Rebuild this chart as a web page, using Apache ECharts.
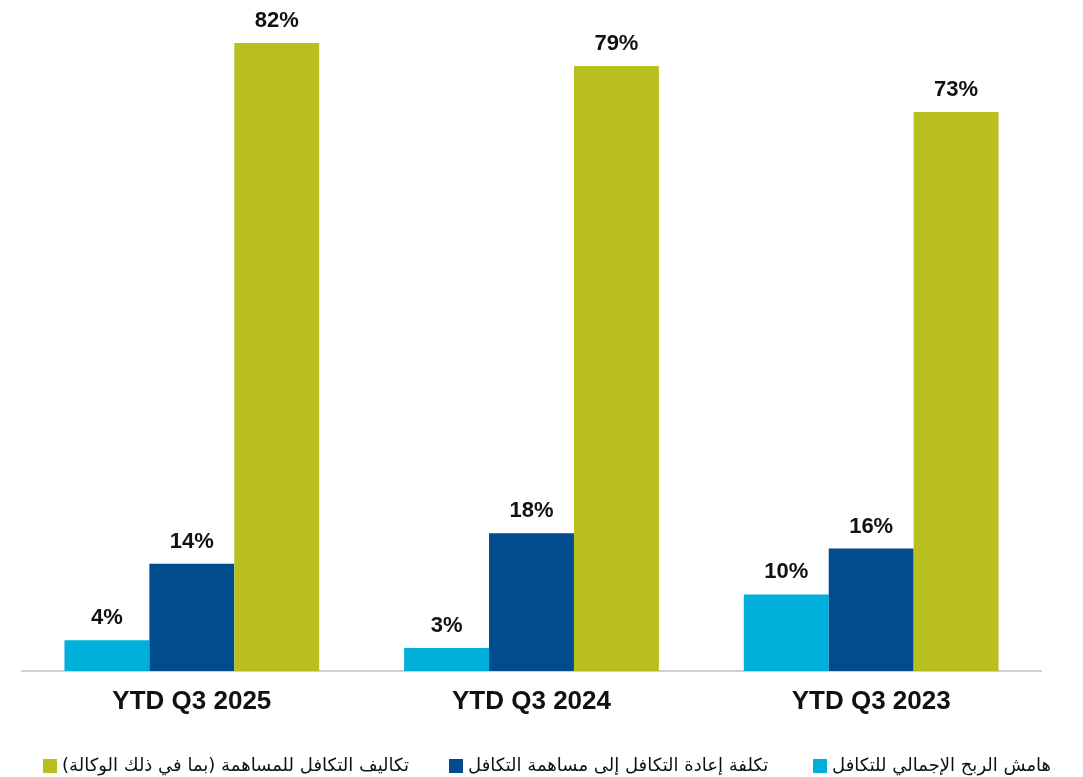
<!DOCTYPE html>
<html>
<head>
<meta charset="utf-8">
<script src="https://cdn.jsdelivr.net/npm/echarts@6/dist/echarts.min.js"></script>
<style>
  html, body { margin: 0; padding: 0; background: #fff; }
  #chart { width: 1083px; height: 777px; }
</style>
</head>
<body>
<div id="chart"></div>
<script>
const categories = ["YTD Q3 2025", "YTD Q3 2024", "YTD Q3 2023"];
const seriesNames = [
  "هامش الربح الإجمالي للتكافل",
  "تكلفة إعادة التكافل إلى مساهمة التكافل",
  "تكاليف التكافل للمساهمة (بما في ذلك الوكالة)"
];
const grossMargin = [4, 3, 10];
const reinsuranceCost = [14, 18, 16];
const contributionCost = [82, 79, 73];
const colors = ["#00B0DA", "#004C8C", "#B8BF1E"];

const chart = echarts.init(document.getElementById("chart"));

// 数值标签
const label = {
  show: true,
  position: "top",
  distance: 11,
  formatter: "{c}%",
  color: "#111",
  fontFamily: "Liberation Sans, Arial, sans-serif",
  fontWeight: "bold",
  fontSize: 22
};

const legendText = {
  color: "#111",
  fontSize: 18,
  fontFamily: "DejaVu Sans, sans-serif"
};

const makeLegend = (name, left) => ({
  data: [name],
  left: left,
  top: 752,
  itemWidth: 14,
  itemHeight: 14,
  itemGap: 10,
  icon: "rect",
  textStyle: legendText,
  selectedMode: false
});

chart.setOption({
  animation: false,
  grid: { left: 22, right: 42, top: 20, bottom: 106 },
  legend: [
    makeLegend(seriesNames[2], 38),
    makeLegend(seriesNames[1], 444),
    makeLegend(seriesNames[0], 808)
  ],
  xAxis: {
    type: "category",
    data: categories,
    axisTick: { show: false },
    axisLine: { lineStyle: { color: "#D0D0D0", width: 2 } },
    axisLabel: {
      color: "#111",
      fontFamily: "Liberation Sans, Arial, sans-serif",
      fontWeight: "bold",
      fontSize: 26,
      margin: 18
    }
  },
  yAxis: {
    type: "value",
    min: 0,
    max: 85,
    show: false,
    splitLine: { show: false }
  },
  series: [
    {
      name: seriesNames[0],
      type: "bar",
      data: grossMargin,
      itemStyle: { color: colors[0] },
      barGap: 0,
      barCategoryGap: "25%",
      label: label
    },
    {
      name: seriesNames[1],
      type: "bar",
      data: reinsuranceCost,
      itemStyle: { color: colors[1] },
      label: label
    },
    {
      name: seriesNames[2],
      type: "bar",
      data: contributionCost,
      itemStyle: { color: colors[2] },
      label: label
    }
  ]
});
</script>
</body>
</html>
